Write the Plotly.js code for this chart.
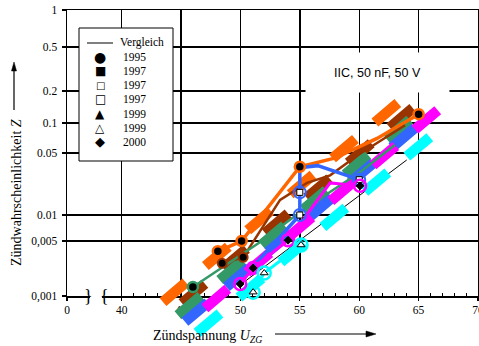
<!DOCTYPE html>
<html><head><meta charset="utf-8">
<script src="https://cdn.plot.ly/plotly-3.0.1.min.js"></script>
<style>html,body{margin:0;padding:0;background:#fff}</style>
</head><body><div id="chart" style="width:479px;height:346px"></div>
<script>
// ---- axis definitions (probability paper) ----
const probTicks    = [0.001, 0.005, 0.01, 0.05, 0.1, 0.2, 0.5, 1];
const probTickText = ['0,001', '0,005', '0.01', '0.05', '0.1', '0.2', '0.5', '1'];
const probScale    = [0, 55, 81, 143, 173, 205, 249, 286];   // calibrated scale of the paper
const xTickVals    = [0, 40, 45, 50, 55, 60, 65, 70];
const xMinorVals   = [41,42,43,44,46,47,48,49,51,52,53,54,56,57,58,59,61,62,63,64,66,67,68,69];

// ---- thick dashed fit lines (upper end first) ----
const fitOrangeX  = [63.25, 43.48], fitOrangeZ  = [0.154, 0.00084];
const fitBrownX   = [64.51, 45.08], fitBrownZ   = [0.138, 0.00081];
const fitGreenX   = [64.26, 44.74], fitGreenZ   = [0.107, 0.00057];
const fitBlueX    = [64.68, 45.33], fitBlueZ    = [0.089, 0.00047];
const fitMagentaX = [66.61, 47.01], fitMagentaZ = [0.132, 0.00070];
const fitCyanX    = [65.94, 46.34], fitCyanZ    = [0.072, 0.00034];

// ---- comparison line ----
const vergleichX = [50, 64], vergleichZ = [0.00139, 0.0417];

// ---- measured series ----
const s1995LineX = [48.1, 50.1, 55.0, 58.0, 61.5, 65.0];
const s1995LineZ = [0.0037, 0.005, 0.035, 0.044, 0.07, 0.121];
const s1995PtX   = [48.1, 50.1, 55.0, 65.0];
const s1995PtZ   = [0.0037, 0.005, 0.035, 0.121];

const brownLineX = [48.46, 50.23, 53.34, 55.61, 57.55, 59.9, 63.86];
const brownLineZ = [0.0026, 0.0031, 0.0148, 0.023, 0.028, 0.0475, 0.095];
const brownPtX   = [48.46, 50.23];
const brownPtZ   = [0.0026, 0.0031];

const greenLineX = [46.0, 51.7, 55.5, 60.0, 63.0];
const greenLineZ = [0.0013, 0.0049, 0.012, 0.03, 0.06];
const greenPtX   = [46.0];
const greenPtZ   = [0.0013];

const blueLineX  = [50.2, 55.0, 55.0, 56.5, 60.0];
const blueLineZ  = [0.0017, 0.01, 0.034, 0.036, 0.025];
const bluePtX    = [55.0, 55.0, 60.0];
const bluePtZ    = [0.01, 0.018, 0.025];

const magLineX   = [49.98, 51.07, 54.01, 57.55, 60.07];
const magLineZ   = [0.00142, 0.00227, 0.0051, 0.023, 0.0213];
const magPtX     = [49.98, 51.07, 54.01, 60.07];
const magPtZ     = [0.00142, 0.00227, 0.0051, 0.0213];

const cyanLineX  = [51.07, 52.0, 55.1];
const cyanLineZ  = [0.00112, 0.00196, 0.00445];

const legendSymbols = ['●', '■', '□', '□', '▲', '△', '◆'];
const legendSymSize = [14, 12, 10, 12, 12, 12, 13];
const legendNames   = ['Vergleich', '1995', '1997', '1997', '1997', '1999', '1999', '2000'];

const colors = {orange:'#ff6600', brown:'#993300', green:'#339966', blue:'#3366ff', magenta:'#ff00ff', cyan:'#00ffff'};

// ---- geometry ----
const W = 479, H = 346, mL = 67, mR = 1, mT = 10, mB = 5;
const plotW = W - mL - mR, plotH = H - mT - mB;
const frameBottom = 296;
const X0 = 35.4;                       // where the broken "0" sits
const yDomLow = (H - mB - frameBottom) / plotH;
const yTop = probScale[probScale.length - 1];
const yBelow = (H - mB - frameBottom);
const pxPerX = plotW / (70 - X0);

const logs = probTicks.map(Math.log10);
function zPos(z) {
  const L = Math.log10(z);
  if (L <= logs[0]) return probScale[0] + (L - logs[0]) * (probScale[1] - probScale[0]) / (logs[1] - logs[0]);
  for (let i = 1; i < logs.length; i++) {
    if (L <= logs[i]) return probScale[i-1] + (L - logs[i-1]) * (probScale[i] - probScale[i-1]) / (logs[i] - logs[i-1]);
  }
  return yTop;
}
function xPos(v) { return v >= 40 ? v : X0 + v * (40 - X0) / 40; }
const px = p => (p - mL) / plotW;
const py = p => (H - mB - p) / plotH;

const serif = 'Liberation Serif, Times New Roman, serif';
const traces = [];

// comparison line lives on the framed subplot
traces.push({x: vergleichX.map(xPos), y: vergleichZ.map(zPos), xaxis:'x', yaxis:'y', mode:'lines',
  name:'Vergleich', line:{color:'#000', width:1}, showlegend:false});

const DASH = 30, NDASH = 6;
function fit(xs, zs, c) {
  const X = xs.map(xPos), Y = zs.map(zPos);
  const len = Math.hypot((X[1] - X[0]) * pxPerX, Y[1] - Y[0]);
  const gap = (len - NDASH * DASH) / (NDASH - 1);
  traces.push({x: X, y: Y, xaxis:'x2', yaxis:'y2', mode:'lines',
    line:{color:c, width:10.5, dash: DASH + 'px,' + gap.toFixed(2) + 'px'}, showlegend:false, hoverinfo:'skip'});
}
fit(fitOrangeX, fitOrangeZ, colors.orange);
fit(fitBrownX, fitBrownZ, colors.brown);
fit(fitGreenX, fitGreenZ, colors.green);
fit(fitBlueX, fitBlueZ, colors.blue);
fit(fitMagentaX, fitMagentaZ, colors.magenta);
fit(fitCyanX, fitCyanZ, colors.cyan);

function thin(xs, zs, c, w, name) {
  traces.push({x: xs.map(xPos), y: zs.map(zPos), xaxis:'x2', yaxis:'y2', mode:'lines', name:name,
    line:{color:c, width:w}, showlegend:false});
}
thin(s1995LineX, s1995LineZ, colors.orange, 3.5, '1995');
thin(brownLineX, brownLineZ, colors.brown, 2.5, '1997');
thin(greenLineX, greenLineZ, colors.green, 2.5, '1997');
thin(blueLineX, blueLineZ, colors.blue, 3.5, '1997');
thin(magLineX, magLineZ, colors.magenta, 3, '1999');
thin(cyanLineX, cyanLineZ, colors.cyan, 3, '1999');

function pts(xs, zs, marker) {
  traces.push({x: xs.map(xPos), y: zs.map(zPos), xaxis:'x2', yaxis:'y2', mode:'markers',
    marker: marker, showlegend:false, cliponaxis:false});
}
pts(s1995PtX, s1995PtZ, {symbol:'circle', size:10, color:'#000', line:{color:colors.orange, width:2.5}});
pts(brownPtX, brownPtZ, {symbol:'circle', size:9, color:'#000', line:{color:colors.brown, width:2}});
pts(greenPtX, greenPtZ, {symbol:'circle', size:10, color:'#000', line:{color:colors.green, width:2.5}});
pts(bluePtX, bluePtZ, {symbol:'circle-open', size:12, color:colors.blue, line:{color:colors.blue, width:2}});
pts(bluePtX, bluePtZ, {symbol:'square', size:6, color:'#fff', line:{color:'#000', width:1}});
pts(magPtX, magPtZ, {symbol:'circle-open', size:12, color:colors.magenta, line:{color:colors.magenta, width:2.5}});
pts(magPtX, magPtZ, {symbol:'diamond', size:6, color:'#000', line:{color:'#000', width:1}});
pts(cyanLineX, cyanLineZ, {symbol:'circle-open', size:13, color:colors.cyan, line:{color:colors.cyan, width:2.5}});
pts(cyanLineX, cyanLineZ, {symbol:'triangle-up', size:7, color:'#fff', line:{color:'#000', width:1}});

// ---- annotations & shapes ----
const annotations = [];
const shapes = [];
const A = o => annotations.push(Object.assign({xref:'paper', yref:'paper', xanchor:'center', yanchor:'middle', showarrow:false}, o));
const P = pts => 'M ' + pts.map(p => px(p[0]) + ',' + py(p[1])).join(' L ') + ' Z';

A({x:px(377), y:py(72), text:'IIC, 50 nF, 50 V', width:141, height:37, bgcolor:'#fff',
   font:{family:'Liberation Sans, Arial, sans-serif', size:12.5, color:'#000'}});
A({x:px(17), y:py(193), text:'Zündwahrscheinlichkeit <i>Z</i>', textangle:-90, font:{family:serif, size:14, color:'#000'}});
A({x:px(207), y:py(336), text:'Zündspannung <i>U</i><sub><i>ZG</i></sub>', font:{family:serif, size:14, color:'#000'}});

// axis-title arrows
shapes.push({type:'line', xref:'paper', yref:'paper', x0:px(14), x1:px(14), y0:py(110), y1:py(70),
  line:{color:'#000', width:1.2}, layer:'above'});
shapes.push({type:'path', xref:'paper', yref:'paper', path:P([[11.5,71],[14,62],[16.5,71]]),
  fillcolor:'#000', line:{color:'#000', width:0.5}, layer:'above'});
shapes.push({type:'line', xref:'paper', yref:'paper', x0:px(275), x1:px(367), y0:py(334), y1:py(334),
  line:{color:'#000', width:1.2}, layer:'above'});
shapes.push({type:'path', xref:'paper', yref:'paper', path:P([[366,331],[376,334],[366,337]]),
  fillcolor:'#000', line:{color:'#000', width:0.5}, layer:'above'});

// axis break
shapes.push({type:'rect', xref:'paper', yref:'paper', x0:px(90), x1:px(102), y0:py(299), y1:py(293),
  fillcolor:'#fff', line:{width:0}, layer:'above'});
A({x:px(88), y:py(296), text:'}', font:{family:serif, size:18, color:'#000'}});
A({x:px(104), y:py(296), text:'{', font:{family:serif, size:18, color:'#000'}});

// legend
shapes.push({type:'rect', xref:'paper', yref:'paper', x0:px(79), x1:px(173), y0:py(161), y1:py(28),
  fillcolor:'#fff', line:{color:'#000', width:1}, layer:'above'});
const rowY = i => 43 + i * 14.1;
shapes.push({type:'line', xref:'paper', yref:'paper', x0:px(87), x1:px(113), y0:py(rowY(0)), y1:py(rowY(0)),
  line:{color:'#000', width:1}, layer:'above'});
legendSymbols.forEach((s, i) => {
  A({x:px(100), y:py(rowY(i+1)), text:s, font:{family:'DejaVu Sans, sans-serif', size:legendSymSize[i], color:'#000'}});
});
legendNames.forEach((n, i) => {
  A({x:px(i === 0 ? 118 : 121), y:py(rowY(i)), xanchor:'left', text:n, font:{family:serif, size:11.5, color:'#000'}});
});

const layout = {
  width: W, height: H,
  margin: {l:mL, r:mR, t:mT, b:mB, pad:0},
  paper_bgcolor:'#fff', plot_bgcolor:'rgba(0,0,0,0)',
  showlegend:false,
  xaxis: {domain:[0,1], anchor:'y', range:[X0,70], tickmode:'array', tickvals:xTickVals.map(xPos),
    ticktext:xTickVals.map(String), ticks:'outside', ticklen:3, tickcolor:'#000', tickwidth:1.2,
    showgrid:true, gridcolor:'#000', gridwidth:1.4, showline:true, linecolor:'#000', linewidth:1.5,
    mirror:true, zeroline:false, automargin:false, ticklabeloverflow:'allow',
    tickfont:{family:serif, size:11.5, color:'#000'},
    minor:{tickvals:xMinorVals, ticks:'inside', ticklen:3, tickcolor:'#000', tickwidth:1, showgrid:false}},
  yaxis: {domain:[yDomLow,1], anchor:'x', range:[0,yTop], tickmode:'array', tickvals:probTicks.map(zPos),
    ticktext:probTickText, ticks:'outside', ticklen:4, tickcolor:'#000', tickwidth:1.2,
    showgrid:true, gridcolor:'#000', gridwidth:1.4, showline:true, linecolor:'#000', linewidth:1.5,
    mirror:true, zeroline:false, automargin:false, ticklabelstandoff:2,
    tickfont:{family:serif, size:11.5, color:'#000'}},
  xaxis2: {domain:[0,1], anchor:'y2', range:[X0,70], visible:false, showgrid:false, zeroline:false},
  yaxis2: {domain:[0,1], anchor:'x2', range:[-yBelow,yTop], visible:false, showgrid:false, zeroline:false},
  annotations: annotations,
  shapes: shapes
};

Plotly.newPlot('chart', traces, layout, {staticPlot:true, displayModeBar:false});
</script>
</body></html>
